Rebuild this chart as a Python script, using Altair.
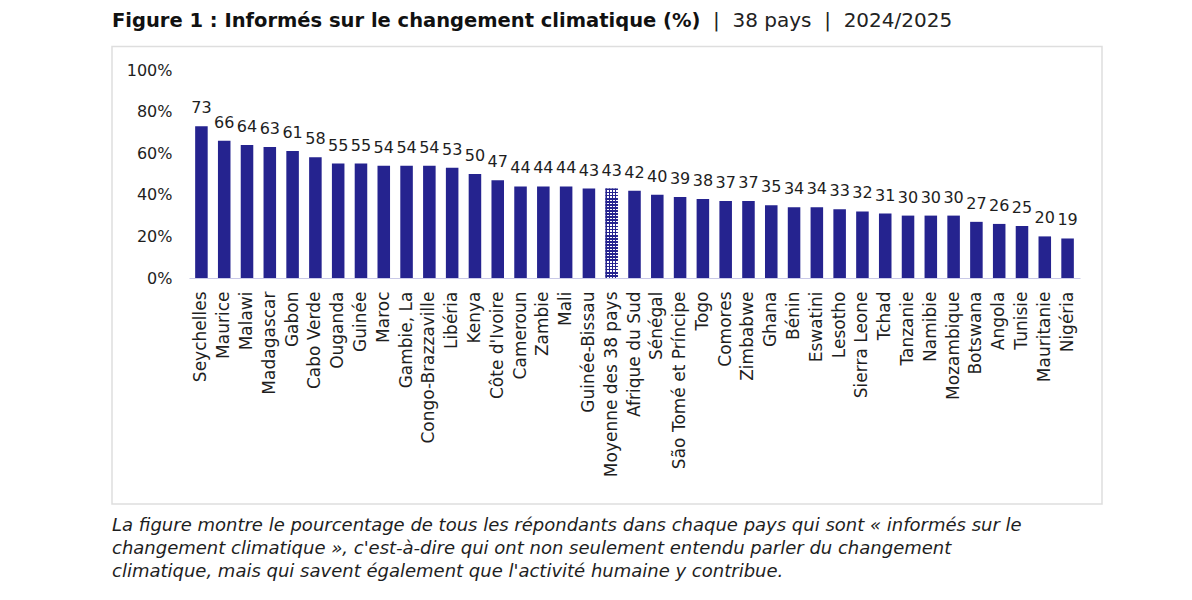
import altair as alt
import pandas as pd

pays = [
    "Seychelles", "Maurice", "Malawi", "Madagascar", "Gabon", "Cabo Verde",
    "Ouganda", "Guinée", "Maroc", "Gambie, La", "Congo-Brazzaville", "Libéria",
    "Kenya", "Côte d'Ivoire", "Cameroun", "Zambie", "Mali", "Guinée-Bissau",
    "Moyenne des 38 pays", "Afrique du Sud", "Sénégal", "São Tomé et Príncipe",
    "Togo", "Comores", "Zimbabwe", "Ghana", "Bénin", "Eswatini", "Lesotho",
    "Sierra Leone", "Tchad", "Tanzanie", "Namibie", "Mozambique", "Botswana",
    "Angola", "Tunisie", "Mauritanie", "Nigéria",
]
valeurs = [
    73, 66, 64, 63, 61, 58,
    55, 55, 54, 54, 54, 53,
    50, 47, 44, 44, 44, 43,
    43, 42, 40, 39,
    38, 37, 37, 35, 34, 34, 33,
    32, 31, 30, 30, 30, 27,
    26, 25, 20, 19,
]
moyenne = "Moyenne des 38 pays"
y_ticks = [0, 20, 40, 60, 80, 100]

titre_gras = "Figure 1 : Informés sur le changement climatique (%)"
titre_normal = "|\u00a0\u00a038 pays\u00a0\u00a0|\u00a0\u00a02024/2025"
legende = [
    "La figure montre le pourcentage de tous les répondants dans chaque pays qui sont « informés sur le",
    "changement climatique », c'est-à-dire qui ont non seulement entendu parler du changement",
    "climatique, mais qui savent également que l'activité humaine y contribue.",
]

NAVY = "#25238f"
TXT = "#1e1e1e"
FONT = "DejaVu Sans"

df = pd.DataFrame({"pays": pays, "valeur": valeurs})
df["moy"] = df["pays"] == moyenne
one = pd.DataFrame({"k": [0]})


def stripes(n, c1, c2, frac, horizontal):
    stops = []
    for k in range(n):
        a = k / n
        b = (k + frac) / n
        c = (k + 1) / n
        stops += [
            {"offset": a, "color": c1},
            {"offset": b, "color": c1},
            {"offset": b, "color": c2},
            {"offset": c, "color": c2},
        ]
    g = {"gradient": "linear", "stops": stops}
    if horizontal:
        g.update({"x1": 0, "y1": 0, "x2": 0, "y2": 1})
    else:
        g.update({"x1": 0, "y1": 0, "x2": 1, "y2": 0})
    return g


grad_h = stripes(29, NAVY, "#ffffff", 0.55, True)
grad_v = stripes(4, NAVY, "rgba(255,255,255,0)", 0.5, False)

x_enc = alt.X(
    "pays:N",
    sort=pays,
    title=None,
    scale=alt.Scale(paddingInner=0.45, paddingOuter=0.27),
    axis=alt.Axis(
        labelAngle=270,
        labelFont=FONT,
        labelFontSize=17,
        labelColor=TXT,
        labelPadding=13,
        labelLimit=400,
        ticks=False,
        domainColor="#c9c9e8",
        domainWidth=1.2,
        labelOverlap=False,
    ),
)
y_enc = alt.Y(
    "valeur:Q",
    title=None,
    scale=alt.Scale(domain=[0, 100]),
    axis=alt.Axis(
        values=y_ticks,
        labelExpr="datum.value + '%'",
        labelFont=FONT,
        labelFontSize=16,
        labelColor=TXT,
        labelPadding=17,
        ticks=False,
        domain=False,
        grid=False,
    ),
)

bars = alt.Chart(df).mark_bar().encode(
    x=x_enc,
    y=y_enc,
    fill=alt.condition("datum.moy", alt.value(grad_h), alt.value(NAVY)),
)
overlay = alt.Chart(df).transform_filter("datum.moy").mark_bar().encode(
    x=alt.X("pays:N", sort=pays),
    y="valeur:Q",
    fill=alt.value(grad_v),
)
labels = alt.Chart(df).mark_text(
    baseline="alphabetic", dy=-13, font=FONT, fontSize=16, color=TXT
).encode(
    x=alt.X("pays:N", sort=pays),
    y="valeur:Q",
    text="valeur:Q",
)

frame = alt.Chart(one).mark_rect(filled=False, stroke="#dedede", strokeWidth=1.5).encode(
    x=alt.value(-77), x2=alt.value(913), y=alt.value(-23.5), y2=alt.value(434)
)
t1 = alt.Chart(one).mark_text(
    align="left", baseline="alphabetic", font=FONT,
    fontSize=19.5, fontWeight="bold", color="#111111"
).encode(x=alt.value(-77), y=alt.value(-42.7), text=alt.value(titre_gras))
t2 = alt.Chart(one).mark_text(
    align="left", baseline="alphabetic", font=FONT, fontSize=20, color="#222222"
).encode(x=alt.value(524), y=alt.value(-42.7), text=alt.value(titre_normal))
cap = alt.Chart(one).mark_text(
    align="left", baseline="alphabetic", font=FONT, fontSize=18,
    fontStyle="italic", color=TXT, lineHeight=23
).encode(x=alt.value(-77), y=alt.value(461), text=alt.value(legende))

chart = alt.layer(frame, bars, overlay, labels, t1, t2, cap).properties(
    width=891,
    height=208,
    padding={"left": 181, "top": 62, "right": 100, "bottom": 310},
    autosize=alt.AutoSizeParams(type="none"),
    background="white",
).configure_view(stroke="transparent")

chart.save("out.html", embed_options={"renderer": "svg", "actions": False})
